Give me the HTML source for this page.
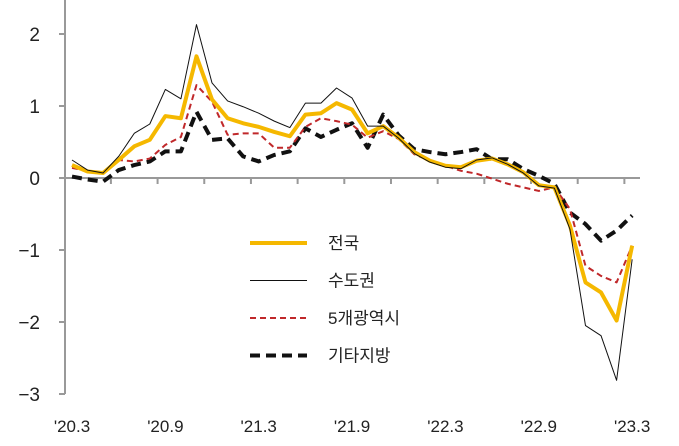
<!DOCTYPE html>
<html><head><meta charset="utf-8"><style>
body{margin:0;background:#fff;}
svg{display:block;font-family:"Liberation Sans","Noto Sans CJK KR",sans-serif;}
</style></head><body>
<svg id="chart" width="679" height="446" viewBox="0 0 679 446"></svg>
<script>
const categories=["'20.3","'20.4","'20.5","'20.6","'20.7","'20.8","'20.9","'20.10","'20.11","'20.12","'21.1","'21.2","'21.3","'21.4","'21.5","'21.6","'21.7","'21.8","'21.9","'21.10","'21.11","'21.12","'22.1","'22.2","'22.3","'22.4","'22.5","'22.6","'22.7","'22.8","'22.9","'22.10","'22.11","'22.12","'23.1","'23.2","'23.3"];
const nationwide=[0.18,0.09,0.07,0.25,0.44,0.53,0.86,0.83,1.69,1.09,0.83,0.76,0.71,0.64,0.58,0.88,0.9,1.04,0.95,0.62,0.72,0.56,0.36,0.24,0.17,0.15,0.24,0.27,0.19,0.08,-0.1,-0.13,-0.66,-1.45,-1.59,-1.98,-0.94];
const capital=[0.25,0.11,0.07,0.3,0.62,0.75,1.23,1.1,2.13,1.32,1.07,0.99,0.9,0.79,0.7,1.04,1.04,1.25,1.11,0.72,0.72,0.55,0.34,0.22,0.15,0.13,0.25,0.28,0.19,0.07,-0.11,-0.14,-0.71,-2.05,-2.19,-2.81,-1.13];
const metro=[0.14,0.1,0.07,0.25,0.23,0.27,0.46,0.57,1.29,1.06,0.6,0.62,0.62,0.42,0.42,0.71,0.83,0.79,0.74,0.56,0.65,0.54,0.33,0.24,0.17,0.1,0.06,-0.01,-0.08,-0.13,-0.18,-0.13,-0.43,-1.22,-1.36,-1.45,-0.94];
const other=[0.02,-0.02,-0.05,0.11,0.18,0.23,0.37,0.37,0.92,0.53,0.55,0.3,0.23,0.32,0.37,0.69,0.57,0.67,0.76,0.42,0.88,0.59,0.4,0.36,0.33,0.36,0.4,0.26,0.26,0.125,0.03,-0.08,-0.48,-0.64,-0.87,-0.73,-0.52];
const yTicks=[2,1,0,-1,-2,-3];
const xLabelIdx=[0,6,12,18,24,30,36];

const svg=document.getElementById('chart');
const NS='http://www.w3.org/2000/svg';
const x=i=>72+i*15.56;
const y=v=>178-v*72;
function mk(tag,attrs){const e=document.createElementNS(NS,tag);for(const k in attrs)e.setAttribute(k,attrs[k]);svg.appendChild(e);return e;}

let a=mk('line',{x1:65,y1:0,x2:65,y2:394,stroke:'#999','stroke-width':2});


yTicks.forEach(v=>{
  const t=mk('line',{x1:59,y1:y(v),x2:65,y2:y(v),stroke:'#999','stroke-width':2});
  
  
  const l=mk('text',{x:40,y:y(v)+7,'text-anchor':'end','font-size':19,fill:'#222'});
  l.textContent=v<0?'−'+Math.abs(v):String(v);
  
  
});
let xa=mk('line',{x1:65,y1:y(0),x2:640,y2:y(0),stroke:'#999','stroke-width':2});


for(let k=2.5;k<37;k+=3){
  const t=mk('line',{x1:x(k),y1:y(0),x2:x(k),y2:y(0)+6,stroke:'#999','stroke-width':2});
  
  
}
xLabelIdx.forEach(i=>{
  const l=mk('text',{x:x(i),y:432,'text-anchor':'middle','font-size':17,fill:'#222'});
  l.textContent=categories[i];
  
  
});
function series(data,style,name){
  const p=mk('polyline',Object.assign({points:data.map((v,i)=>x(i)+','+y(v)).join(' '),fill:'none','stroke-linejoin':'round'},style));
  
  
}
const sOther={stroke:'#111','stroke-width':4,'stroke-dasharray':'10 6'};
const sMetro={stroke:'#c0282a','stroke-width':2,'stroke-dasharray':'6 4'};
const sNation={stroke:'#f5b800','stroke-width':4};
const sCap={stroke:'#111','stroke-width':1};
series(other,sOther,'other-regions-line');
series(metro,sMetro,'five-metro-line');
series(nationwide,sNation,'nationwide-line');
series(capital,sCap,'capital-area-line');

const legend=[['전국',sNation],['수도권',sCap],['5개광역시',sMetro],['기타지방',sOther]];
legend.forEach((d,k)=>{
  const yy=243+k*37.5;
  const l=mk('line',Object.assign({x1:250,y1:yy,x2:307,y2:yy},d[1]));
  
  
  const t=mk('text',{x:328,y:yy+6,'font-size':17,fill:'#222'});
  t.textContent=d[0];
  
  
});
</script>
</body></html>
